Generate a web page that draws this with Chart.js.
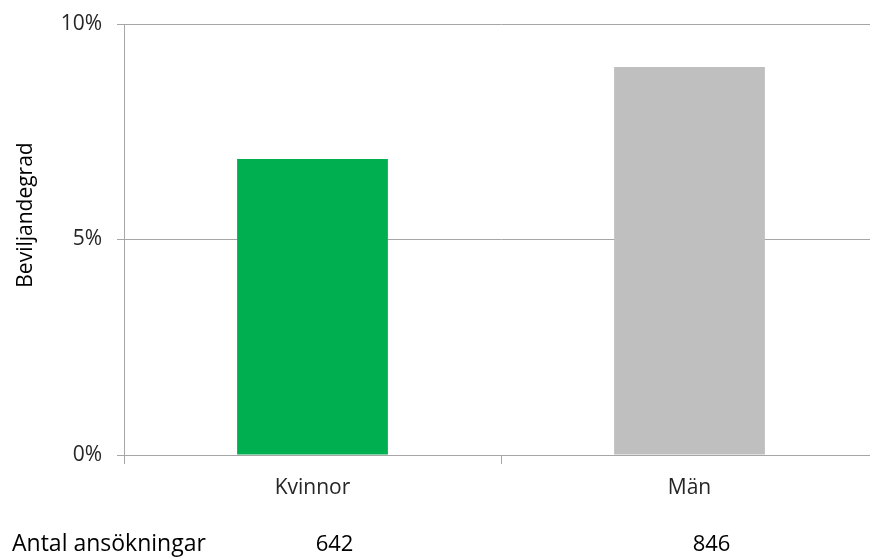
<!DOCTYPE html>
<html>
<head>
<meta charset="utf-8">
<script src="https://cdn.jsdelivr.net/npm/chart.js@4"></script>
<style>
  html, body { margin: 0; padding: 0; background: #fff; overflow: hidden; }
  #wrap { width: 870px; height: 557px; overflow: hidden; }
</style>
</head>
<body>
<div id="wrap"><canvas id="chart" width="878" height="557"></canvas></div>
<script>
const categories = ['Kvinnor', 'Män'];
const rates = [6.87, 9.0];
const applications = [642, 846];
const barColors = ['#00b050', '#bfbfbf'];
const yTicks = [0, 5, 10];

const FONT = '"Open Sans", sans-serif';
const gridColor = '#a6a6a6';

// draws y title and the "Antal ansökningar" row under the axis
const extraText = {
  id: 'extraText',
  afterDraw(chart) {
    const ctx = chart.ctx;
    const x = chart.scales.x;
    ctx.save();
    ctx.fillStyle = '#000';
    ctx.font = '23px ' + FONT;
    ctx.textBaseline = 'alphabetic';
    ctx.textAlign = 'left';
    ctx.fillText('Antal ansökningar', 12, 551);
    ctx.font = '22px ' + FONT;
    ctx.textAlign = 'center';
    applications.forEach((n, i) => {
      ctx.fillText(String(n), x.getPixelForValue(i) + 22, 551);
    });
    ctx.font = '21px ' + FONT;
    ctx.textBaseline = 'middle';
    ctx.translate(26, 215);
    ctx.rotate(-Math.PI / 2);
    ctx.fillText('Beviljandegrad', 0, 0);
    ctx.restore();
  }
};

new Chart(document.getElementById('chart'), {
  type: 'bar',
  data: {
    labels: categories,
    datasets: [{
      data: rates,
      backgroundColor: barColors,
      borderWidth: 0,
      barPercentage: 0.4,
      categoryPercentage: 1.0
    }]
  },
  options: {
    responsive: false,
    animation: false,
    layout: { padding: { top: 24, left: 0, right: 0, bottom: 0 } },
    plugins: { legend: { display: false }, tooltip: { enabled: false } },
    scales: {
      x: {
        afterFit(s) { s.height = 102; },
        grid: { drawOnChartArea: false, offset: true, color: gridColor, tickLength: 9, lineWidth: 1 },
        border: { display: true, color: gridColor },
        ticks: { color: '#262626', font: { family: FONT, size: 21 }, padding: 11 }
      },
      y: {
        min: 0,
        max: 10,
        afterFit(s) { s.width = 124; s.paddingTop = 0; },
        afterBuildTicks(s) { s.ticks = yTicks.map(v => ({ value: v })); },
        grid: { color: gridColor, tickLength: 7, lineWidth: 1 },
        border: { display: true, color: gridColor },
        ticks: {
          color: '#262626',
          font: { family: FONT, size: 21 },
          padding: 15,
          callback: v => v + '%'
        }
      }
    }
  },
  plugins: [extraText]
});
</script>
</body>
</html>
